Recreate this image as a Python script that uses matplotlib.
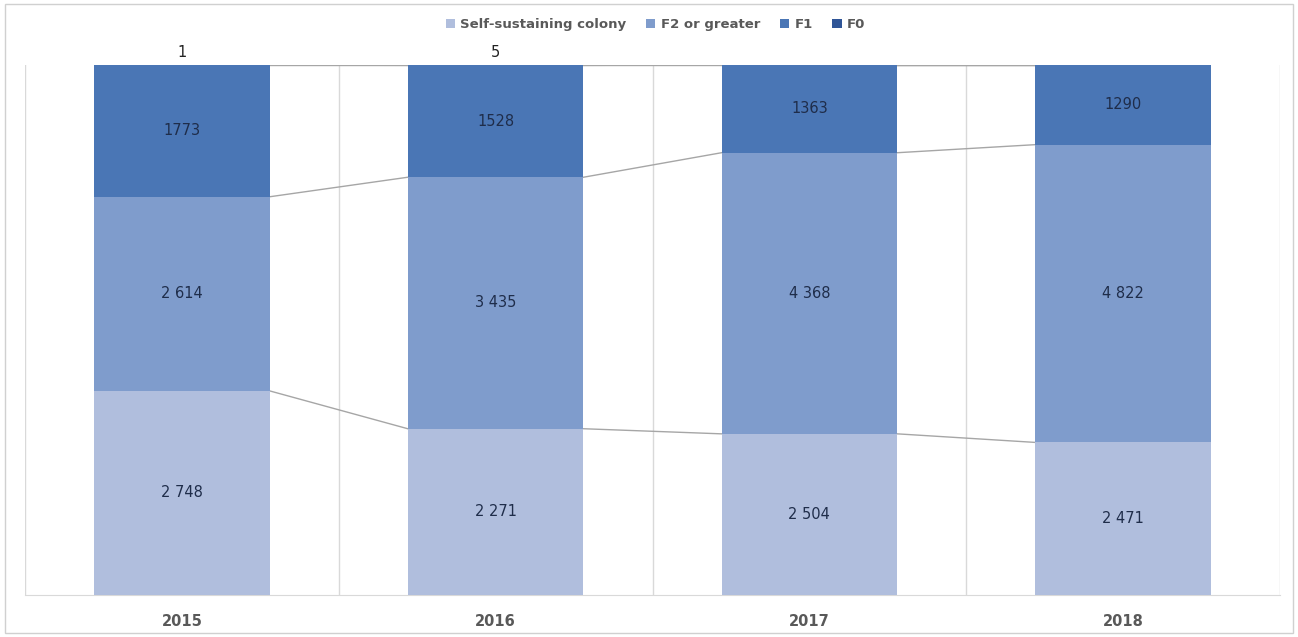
import matplotlib.pyplot as plt
import numpy as np
from matplotlib.patches import Rectangle

years = ["2015", "2016", "2017", "2018"]
series = ["Self-sustaining colony", "F2 or greater", "F1", "F0"]
self_sustaining = [2748, 2271, 2504, 2471]
f2_or_greater = [2614, 3435, 4368, 4822]
f1 = [1773, 1528, 1363, 1290]
f0 = [1, 5, 0, 0]
colors = ["#b0bedd", "#7f9ccc", "#4a76b5", "#2f5597"]

data = np.array([self_sustaining, f2_or_greater, f1, f0], dtype=float)
totals = data.sum(axis=0)
shares = data / totals
tops = np.cumsum(shares, axis=0)
bottoms = tops - shares

fig = plt.figure(figsize=(12.98, 6.37), dpi=100)
ax = fig.add_axes([25 / 1298, 42 / 637, 1255 / 1298, 530 / 637])

x = np.arange(len(years))
width = 0.56
for i, name in enumerate(series):
    ax.bar(x, shares[i], width, bottom=bottoms[i], color=colors[i],
           label=name, zorder=3)

# value labels, thousands split with a space
def fmt(v):
    v = int(v)
    return f"{v:,}".replace(",", " ") if v >= 2000 else str(v)

for i in range(3):
    for j in range(len(years)):
        ax.text(x[j], bottoms[i][j] + shares[i][j] / 2, fmt(data[i][j]),
                ha="center", va="center", fontsize=10.5, color="#1f2d4a", zorder=4)
for j in range(len(years)):
    if data[3][j] > 0:
        ax.text(x[j], 1.01, fmt(data[3][j]), ha="center", va="bottom",
                fontsize=10.5, color="#222222", zorder=4)

# series lines joining the bars
for i in range(len(series)):
    for j in range(len(years) - 1):
        ax.plot([x[j] + width / 2, x[j + 1] - width / 2],
                [tops[i][j], tops[i][j + 1]], color="#a6a6a6", lw=1, zorder=2)

ax.set_xlim(-0.5, len(years) - 0.5)
ax.set_ylim(0, 1)
for b in np.arange(-0.5, len(years), 1.0):
    ax.axvline(b, color="#d9d9d9", lw=1, zorder=1)

ax.set_yticks([])
ax.set_xticks(x)
ax.set_xticklabels(years, fontsize=10.5, fontweight="bold", color="#595959")
ax.tick_params(axis="x", length=0, pad=14)
for s in ["top", "right", "left"]:
    ax.spines[s].set_visible(False)
ax.spines["bottom"].set_color("#d9d9d9")

fig.legend(loc="upper center", bbox_to_anchor=(0.505, 0.99), ncol=4,
           frameon=False, prop={"size": 9.5, "weight": "bold"},
           handlelength=0.7, handleheight=0.7,
           handletextpad=0.4, columnspacing=1.5, labelcolor="#595959")

fig.patches.append(Rectangle((5 / 1298, 4 / 637), 1288 / 1298, 629 / 637,
                             transform=fig.transFigure, fill=False,
                             edgecolor="#d0d0d0", lw=1))

fig.savefig("out.png", dpi=100)
